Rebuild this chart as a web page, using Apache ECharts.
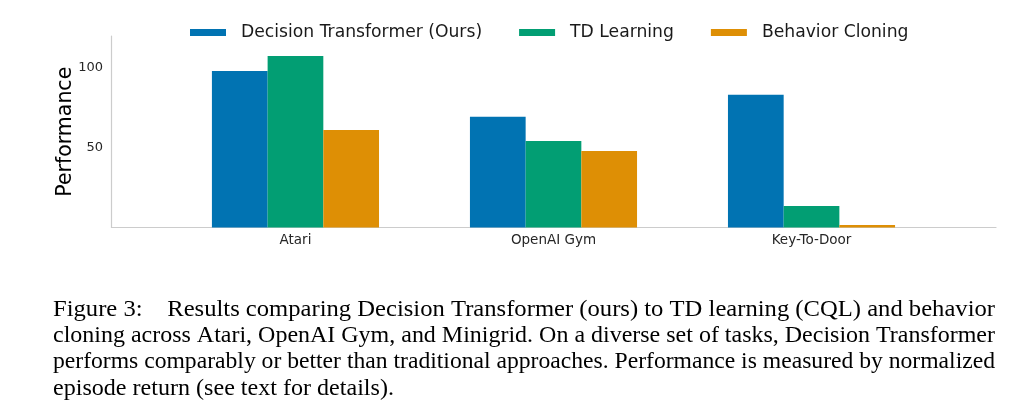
<!DOCTYPE html>
<html><head><meta charset="utf-8">
<script src="https://cdn.jsdelivr.net/npm/echarts@6/dist/echarts.min.js"></script>
<style>html,body{margin:0;padding:0;background:#fff}#c{width:1030px;height:410px}</style>
</head><body><div id="c"></div>
<script>
// ---- data ----
const categories = ['Atari', 'OpenAI Gym', 'Key-To-Door'];
const seriesNames = ['Decision Transformer (Ours)', 'TD Learning', 'Behavior Cloning'];
const decisionTransformer = [98.1, 69.3, 83.1];
const tdLearning = [107.5, 54.2, 13.4];
const behaviorCloning = [61.1, 47.9, 1.5];
const yTickValues = [50, 100];
const captionLines = [
  'Figure 3:    Results comparing Decision Transformer (ours) to TD learning (CQL) and behavior',
  'cloning across Atari, OpenAI Gym, and Minigrid. On a diverse set of tasks, Decision Transformer',
  'performs comparably or better than traditional approaches. Performance is measured by normalized',
  'episode return (see text for details).'
];

// ---- styling ----
const colors = ['#0173b2', '#029e73', '#de8f05'];
const seriesValues = [decisionTransformer, tdLearning, behaviorCloning];
const sans = '"DejaVu Sans", sans-serif';
const capFont = '24px "Liberation Serif"';

// caption horizontal fit (justified block)
const cv = document.createElement('canvas').getContext('2d');
cv.font = capFont;
const capLeft = 53, capWidth = 942;
const scales = captionLines.map(t => capWidth / cv.measureText(t).width);
const avgScale = (scales[0] + scales[1] + scales[2]) / 3;
const captionGraphics = captionLines.map((t, i) => ({
  type: 'text',
  x: capLeft, y: 309.5 + i * 26.3,
  originX: 0, originY: 0,
  scaleX: i < 3 ? scales[i] : avgScale,
  style: { text: t, font: capFont, fill: '#000', textAlign: 'left', textVerticalAlign: 'middle' }
}));

const chart = echarts.init(document.getElementById('c'), null, { renderer: 'canvas' });
chart.setOption({
  animation: false,
  backgroundColor: '#fff',
  color: colors,
  legend: {
    data: seriesNames,
    left: 185, top: 19,
    icon: 'rect', itemWidth: 36, itemHeight: 7, itemGap: 37,
    textStyle: { fontFamily: sans, fontSize: 17.2, color: '#1a1a1a', padding: [0, 0, 0, 10] }
  },
  grid: { left: 111.5, right: 34, top: 36, bottom: 182.6, containLabel: false },
  xAxis: {
    type: 'value', min: -0.713, max: 2.715,
    splitLine: { show: false },
    axisTick: { show: false },
    axisLine: { show: true, onZero: false, lineStyle: { color: '#cccccc', width: 1.2 } },
    axisLabel: {
      customValues: categories.map((c, i) => i),
      formatter: v => categories[Math.round(v)],
      fontFamily: sans, fontSize: 13.5, color: '#262626', margin: 6
    }
  },
  yAxis: {
    type: 'value', min: 0, max: 120,
    name: 'Performance', nameLocation: 'middle', nameGap: 35.5, nameRotate: 90,
    nameMoveOverlap: false,
    nameTextStyle: { fontFamily: sans, fontSize: 20.5, color: '#000' },
    splitLine: { show: false },
    axisTick: { show: false },
    axisLine: { show: true, onZero: false, lineStyle: { color: '#cccccc', width: 1.2 } },
    axisLabel: {
      customValues: yTickValues,
      fontFamily: sans, fontSize: 13, color: '#262626', margin: 8.5
    }
  },
  series: seriesNames.map((n, s) => ({
    name: n, type: 'bar',
    barWidth: 55.7, barGap: '0%',
    itemStyle: { color: colors[s] },
    data: seriesValues[s].map((v, i) => [i, v])
  })),
  graphic: captionGraphics
});
</script>
</body></html>
